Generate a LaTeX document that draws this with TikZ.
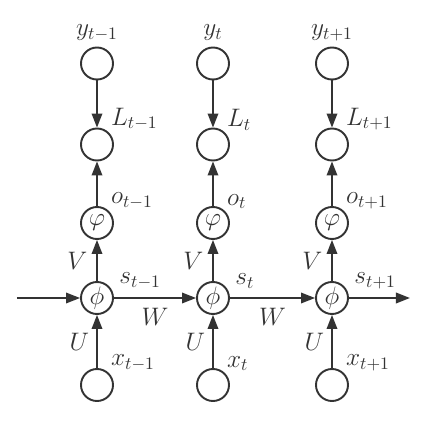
\documentclass[tikz,border=0pt]{standalone}
\usepackage{tikz}
\usetikzlibrary{positioning,arrows.meta}
\definecolor{rnncinza}{HTML}{333333}
\tikzset{
  rnnno/.style={draw=rnncinza, circle, line width=1.1pt, minimum size=6.4mm, inner sep=0pt,
                font=\Large, text=rnncinza},
  rnnseta/.style={-{Triangle[length=2.8mm, width=2.1mm]}, line width=1.1pt, draw=rnncinza},
  rnnrotulo/.style={font=\Large, text=rnncinza, inner sep=1pt},
}
\begin{document}
\begin{tikzpicture}
    \useasboundingbox (0,0) rectangle (8.48,8.56);
    % coluna t-1
    \node[rnnno, label={[rnnrotulo, inner sep=3pt]above:$y_{t-1}$}] (y1) at (1.94,7.29) {};
    \node[rnnno, label={[rnnrotulo]45:$L_{t-1}$}] (l1) at (1.94,5.67) {};
    \node[rnnno, label={[rnnrotulo]45:$o_{t-1}$}] (o1) at (1.94,4.10) {$\varphi$};
    \node[rnnno, label={[rnnrotulo, xshift=1mm]25:$s_{t-1}$}] (h1) at (1.94,2.60) {$\phi$};
    \node[rnnno, label={[rnnrotulo]45:$x_{t-1}$}] (x1) at (1.94,0.86) {};
    % coluna t
    \node[rnnno, label={[rnnrotulo, inner sep=3pt]above:$y_{t}$}] (y2) at (4.26,7.29) {};
    \node[rnnno, label={[rnnrotulo]45:$L_{t}$}] (l2) at (4.26,5.67) {};
    \node[rnnno, label={[rnnrotulo]45:$o_{t}$}] (o2) at (4.26,4.10) {$\varphi$};
    \node[rnnno, label={[rnnrotulo, xshift=1mm]25:$s_{t}$}] (h2) at (4.26,2.60) {$\phi$};
    \node[rnnno, label={[rnnrotulo]45:$x_{t}$}] (x2) at (4.26,0.86) {};
    % coluna t+1
    \node[rnnno, label={[rnnrotulo, inner sep=3pt]above:$y_{t+1}$}] (y3) at (6.64,7.29) {};
    \node[rnnno, label={[rnnrotulo]45:$L_{t+1}$}] (l3) at (6.64,5.67) {};
    \node[rnnno, label={[rnnrotulo]45:$o_{t+1}$}] (o3) at (6.64,4.10) {$\varphi$};
    \node[rnnno, label={[rnnrotulo, xshift=1mm]25:$s_{t+1}$}] (h3) at (6.64,2.60) {$\phi$};
    \node[rnnno, label={[rnnrotulo]45:$x_{t+1}$}] (x3) at (6.64,0.86) {};
    \coordinate (ent) at (0.34,2.60);
    \coordinate (sai) at (8.20,2.60);
    % setas verticais
    \draw[rnnseta] (y1) -- (l1);
    \draw[rnnseta] (o1) -- (l1);
    \draw[rnnseta] (h1) -- node[rnnrotulo, left=4pt] {$V$} (o1);
    \draw[rnnseta] (x1) -- node[rnnrotulo, left=3pt] {$U$} (h1);
    \draw[rnnseta] (y2) -- (l2);
    \draw[rnnseta] (o2) -- (l2);
    \draw[rnnseta] (h2) -- node[rnnrotulo, left=4pt] {$V$} (o2);
    \draw[rnnseta] (x2) -- node[rnnrotulo, left=3pt] {$U$} (h2);
    \draw[rnnseta] (y3) -- (l3);
    \draw[rnnseta] (o3) -- (l3);
    \draw[rnnseta] (h3) -- node[rnnrotulo, left=4pt] {$V$} (o3);
    \draw[rnnseta] (x3) -- node[rnnrotulo, left=3pt] {$U$} (h3);
    % setas horizontais
    \draw[rnnseta] (ent) -- (h1);
    \draw[rnnseta] (h1) -- node[rnnrotulo, below=4pt] {$W$} (h2);
    \draw[rnnseta] (h2) -- node[rnnrotulo, below=4pt] {$W$} (h3);
    \draw[rnnseta] (h3) -- (sai);
\end{tikzpicture}
\end{document}
